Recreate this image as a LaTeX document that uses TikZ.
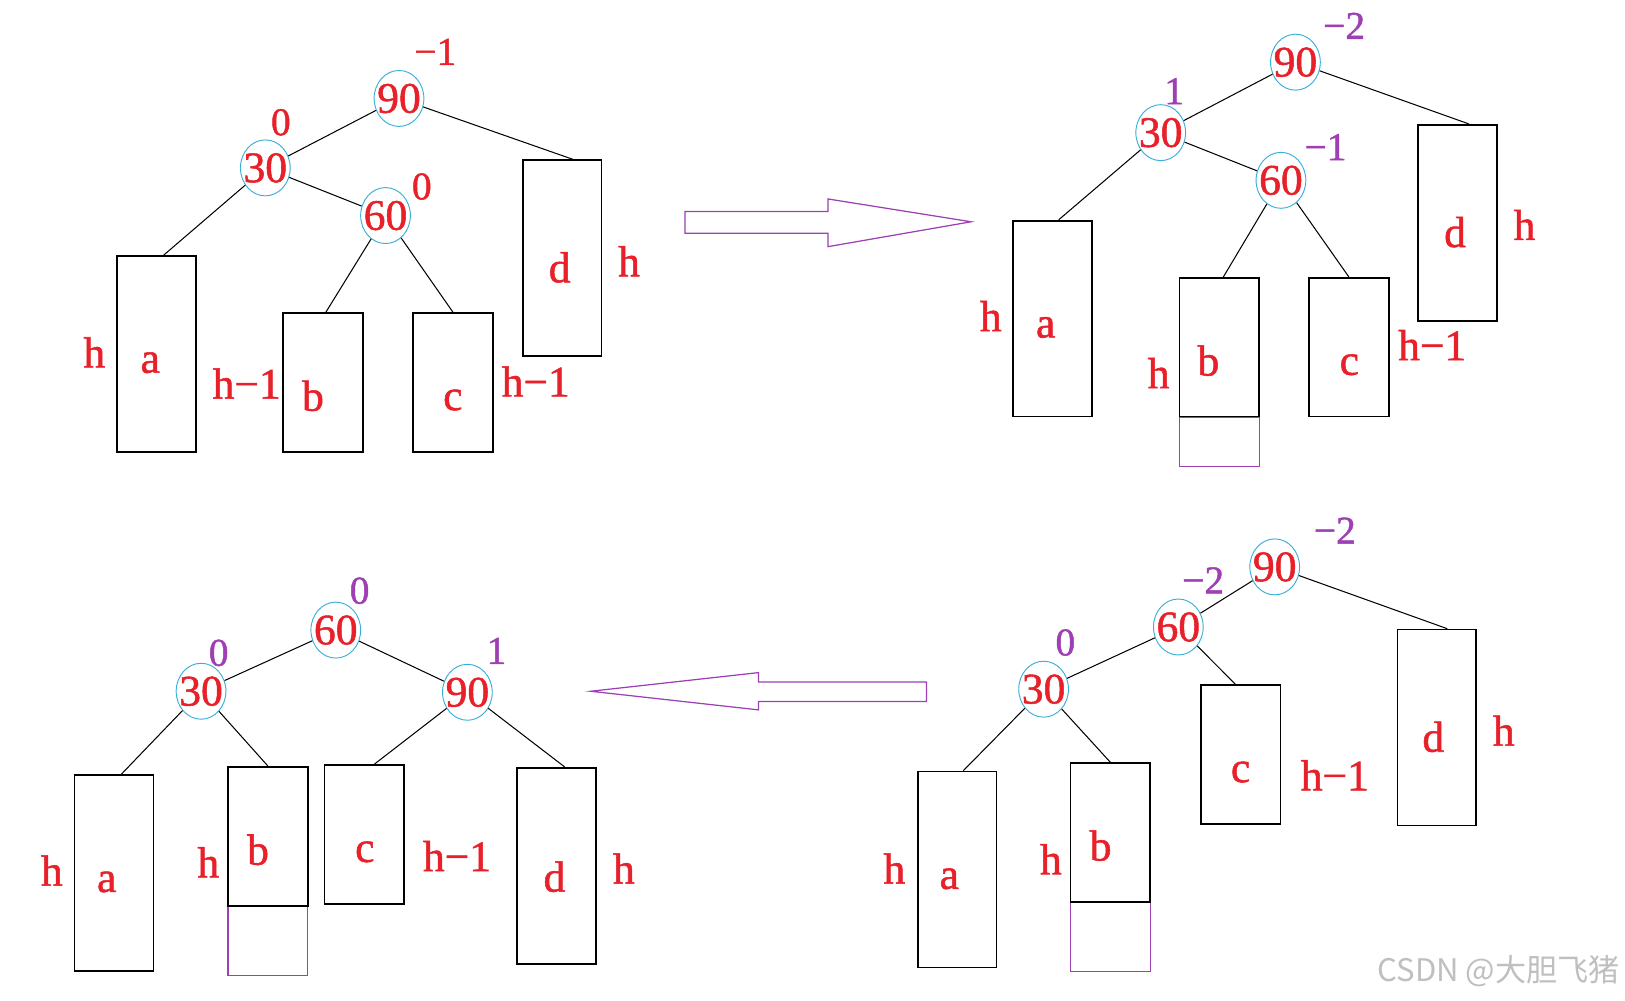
\documentclass[tikz,border=0pt]{standalone}
\usepackage{fontspec}
\setmainfont{Liberation Serif}
\newfontfamily\redfont[FakeBold=1.2]{Liberation Serif}
\newfontfamily\cjkfont{Noto Sans CJK SC}
\usetikzlibrary{shapes.geometric}
\definecolor{nred}{HTML}{E8202A}
\definecolor{npurple}{HTML}{9E40B4}
\definecolor{ncyan}{HTML}{3AAFD9}
\begin{document}
\begin{tikzpicture}[x=1pt,y=-1pt,
  vnode/.style={ellipse,draw=ncyan,line width=0.9pt,minimum width=48pt,minimum height=54pt,inner sep=0pt},
  numtxt/.style={text=nred,font=\redfont\fontsize{42}{42}\selectfont,inner sep=0pt},
  lettxt/.style={text=nred,font=\redfont\fontsize{42}{42}\selectfont,inner sep=0pt},
  balred/.style={text=nred,font=\redfont\fontsize{38}{38}\selectfont,inner sep=0pt},
  balpur/.style={text=npurple,font=\redfont\fontsize{38}{38}\selectfont,inner sep=0pt},
  tallbox/.style={draw=black,line width=1.7pt,minimum width=76pt,minimum height=189pt,inner sep=0pt},
  shortbox/.style={draw=black,line width=1.7pt,minimum width=77pt,minimum height=134pt,inner sep=0pt},
  extbox/.style={draw=npurple,line width=1pt,minimum width=77pt,inner sep=0pt,anchor=north},
  link/.style={draw=black,line width=1pt},
  hollow/.style={draw=npurple,line width=1.2pt,line join=miter}
]
\useasboundingbox[fill=white] (0,0) rectangle (1568,965);

%%%%%%%% Top-left tree
\node[vnode,label={[numtxt]center:90}] (A90) at (385,95) {};
\node[vnode,label={[numtxt]center:30}] (A30) at (256,162) {};
\node[vnode,label={[numtxt]center:60}] (A60) at (372,208) {};
\node[balred] (Ab90) at (420,50) {−1};
\node[balred] (Ab30) at (271,118) {0};
\node[balred] (Ab60) at (407,180) {0};
\node[tallbox] (Aa) at (151,341.5) {};
\node[shortbox] (Ab) at (311.5,369) {};
\node[shortbox] (Ac) at (437,369) {};
\node[tallbox] (Ad) at (542.5,249) {};
\node[lettxt] (Ala) at (145,350) {a};
\node[lettxt] (Alb) at (302,382) {b};
\node[lettxt] (Alc) at (437,386) {c};
\node[lettxt] (Ald) at (540,258) {d};
\node[lettxt] (Aha) at (91,340) {h};
\node[lettxt] (Ahb) at (238,370) {h−1};
\node[lettxt] (Ahc) at (517,368) {h−1};
\node[lettxt] (Ahd) at (607,252) {h};
\draw[link] (A90) -- (A30);
\draw[link] (A90) -- ([xshift=10pt]Ad.north);
\draw[link] (A30) -- ([xshift=7pt]Aa.north);
\draw[link] (A30) -- (A60);
\draw[link] (A60) -- ([xshift=3pt]Ab.north);
\draw[link] (A60) -- (Ac.north);

%%%%%%%% Arrow right
\draw[hollow] (661,204) -- (799,204) -- (799,192) -- (937,214) -- (799,238) -- (799,225) -- (661,225) -- cycle;

%%%%%%%% Top-right tree
\node[vnode,label={[numtxt]center:90}] (B90) at (1250,60) {};
\node[vnode,label={[numtxt]center:30}] (B30) at (1120,128) {};
\node[vnode,label={[numtxt]center:60}] (B60) at (1236,174) {};
\node[balpur] (Bb90) at (1297,25) {−2};
\node[balpur] (Bb30) at (1133,88) {1};
\node[balpur] (Bb60) at (1279,142) {−1};
\node[extbox,minimum height=48pt] (Be) at (1176.5,402) {};
\node[tallbox] (Ba) at (1015.5,307.5) {};
\node[shortbox] (Bb) at (1176.5,335) {};
\node[shortbox] (Bc) at (1301.5,335) {};
\node[tallbox] (Bd) at (1406.5,215) {};
\node[lettxt] (Bla) at (1009,316) {a};
\node[lettxt] (Blb) at (1166,348) {b};
\node[lettxt] (Blc) at (1302,352) {c};
\node[lettxt] (Bld) at (1404,224) {d};
\node[lettxt] (Bha) at (956,305) {h};
\node[lettxt] (Bhb) at (1118,360) {h};
\node[lettxt] (Bhc) at (1382,333) {h−1};
\node[lettxt] (Bhd) at (1471,217) {h};
\draw[link] (B90) -- (B30);
\draw[link] (B90) -- ([xshift=11pt]Bd.north);
\draw[link] (B30) -- ([xshift=6pt]Ba.north);
\draw[link] (B30) -- (B60);
\draw[link] (B60) -- ([xshift=4pt]Bb.north);
\draw[link] (B60) -- (Bc.north);

%%%%%%%% Bottom-left tree
\node[vnode,label={[numtxt]center:60}] (C60) at (324,608) {};
\node[vnode,label={[numtxt]center:30}] (C30) at (194,667) {};
\node[vnode,label={[numtxt]center:90}] (C90) at (451,668) {};
\node[balpur] (Cb60) at (347,570) {0};
\node[balpur] (Cb30) at (211,630) {0};
\node[balpur] (Cb90) at (479,628) {1};
\node[extbox,minimum height=67pt] (Ce) at (258.5,874) {};
\node[tallbox] (Ca) at (110,842.5) {};
\node[shortbox] (Cb) at (258.5,807) {};
\node[shortbox] (Cc) at (351.5,805) {};
\node[tallbox] (Cd) at (537,835.5) {};
\node[lettxt] (Cla) at (103,851) {a};
\node[lettxt] (Clb) at (249,820) {b};
\node[lettxt] (Clc) at (352,822) {c};
\node[lettxt] (Cld) at (535,846) {d};
\node[lettxt] (Cha) at (50,840) {h};
\node[lettxt] (Chb) at (201,832) {h};
\node[lettxt] (Chc) at (441,826) {h−1};
\node[lettxt] (Chd) at (602,838) {h};
\draw[link] (C60) -- (C30);
\draw[link] (C60) -- (C90);
\draw[link] (C30) -- ([xshift=7pt]Ca.north);
\draw[link] (C30) -- (Cb.north);
\draw[link] (C90) -- ([xshift=10pt]Cc.north);
\draw[link] (C90) -- ([xshift=8pt]Cd.north);

%%%%%%%% Arrow left
\draw[hollow] (894,658) -- (732,658) -- (732,649) -- (570,667) -- (732,685) -- (732,677) -- (894,677) -- cycle;

%%%%%%%% Bottom-right tree
\node[vnode,label={[numtxt]center:90}] (D90) at (1230,547) {};
\node[vnode,label={[numtxt]center:60}] (D60) at (1137,605) {};
\node[vnode,label={[numtxt]center:30}] (D30) at (1007,665) {};
\node[balpur] (Db90) at (1288,512) {−2};
\node[balpur] (Db60) at (1161,560) {−2};
\node[balpur] (Db30) at (1028,620) {0};
\node[extbox,minimum height=67pt] (De) at (1071.5,870) {};
\node[tallbox] (Da) at (923.5,839) {};
\node[shortbox] (Db) at (1071.5,803.5) {};
\node[shortbox] (Dc) at (1197,728) {};
\node[tallbox] (Dd) at (1386.5,702) {};
\node[lettxt] (Dla) at (916,848) {a};
\node[lettxt] (Dlb) at (1062,816) {b};
\node[lettxt] (Dlc) at (1197,745) {c};
\node[lettxt] (Dld) at (1383,711) {d};
\node[lettxt] (Dha) at (863,838) {h};
\node[lettxt] (Dhb) at (1014,829) {h};
\node[lettxt] (Dhc) at (1288,748) {h−1};
\node[lettxt] (Dhd) at (1451,705) {h};
\draw[link] (D90) -- (D60);
\draw[link] (D90) -- ([xshift=10pt]Dd.north);
\draw[link] (D60) -- (D30);
\draw[link] (D60) -- ([xshift=-5pt]Dc.north);
\draw[link] (D30) -- ([xshift=6pt]Da.north);
\draw[link] (D30) -- (Db.north);

%%%%%%%% Watermark
\node[text=black!25,font=\cjkfont\fontsize{30}{30}\selectfont,inner sep=0pt,anchor=east] (wm) at (1563,937) {CSDN @大胆飞猪};
\end{tikzpicture}
\end{document}
